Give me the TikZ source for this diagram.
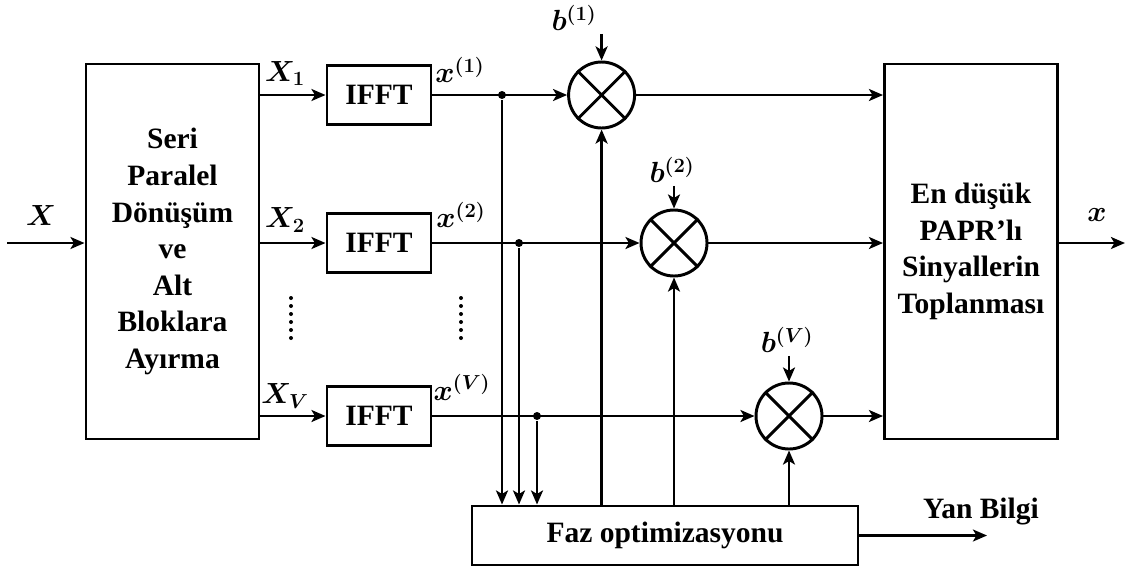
\documentclass[tikz,border=0pt]{standalone}
\usepackage{fontspec}
\setmainfont{Liberation Serif}
\usepackage{amsmath,bm}
\usetikzlibrary{arrows.meta}
\tikzstyle{blockdiagram}=[
    >={Stealth[length=10pt,width=8.5pt,inset=2.5pt]},
    line width=2.1pt,
    every node/.style={font=\fontsize{21}{26}\selectfont\bfseries},
    blk/.style={draw, rectangle, align=center, inner sep=0pt},
    mul/.style={draw, circle, inner sep=0pt, minimum size=1.65cm},
    junc/.style={circle, fill, inner sep=0pt, minimum size=0.2cm},
]

\begin{document}
\begin{tikzpicture}[blockdiagram]
        \useasboundingbox (0,0) rectangle (28.3,-14.225);
        \node (sp) at (4.3125,-6.2875) [blk, minimum width=4.325cm, minimum height=9.375cm] {Seri\\Paralel\\Dönüşüm\\ve\\Alt\\Bloklara\\Ayırma};
        \node (tp) at (24.275,-6.2875) [blk, minimum width=4.325cm, minimum height=9.375cm] {En düşük\\PAPR’lı\\Sinyallerin\\Toplanması};
        \node (ifft1) at (9.475,-2.375) [blk, minimum width=2.6cm, minimum height=1.475cm] {IFFT};
        \node (ifft2) at (9.475,-6.075) [blk, minimum width=2.6cm, minimum height=1.475cm] {IFFT};
        \node (ifftV) at (9.475,-10.4) [blk, minimum width=2.6cm, minimum height=1.475cm] {IFFT};
        \node (faz) at (16.625,-13.3875) [blk, minimum width=9.65cm, minimum height=1.475cm] {Faz optimizasyonu};
        \node (m1) at (15.04,-2.375) [mul] {};
        \node (m2) at (16.85,-6.075) [mul] {};
        \node (mV) at (19.725,-10.4) [mul] {};
        \node (d1) at (12.55,-2.375) [junc] {};
        \node (d2) at (12.975,-6.075) [junc] {};
        \node (dV) at (13.425,-10.4) [junc] {};
        \coordinate (in) at (0.175,-6.075);
        \coordinate (out) at (28.125,-6.075);
        \coordinate (yan) at (24.675,-13.3875);
        \node (lX) at (1.025,-5.375) {$\bm{X}$};
        \node (lX1) at (7.125,-1.84) {$\bm{X_1}$};
        \node (lX2) at (7.125,-5.5) {$\bm{X_2}$};
        \node (lXV) at (7.125,-9.9) {$\bm{X_V}$};
        \node (lx1) at (11.5,-1.75) {$\bm{x^{(1)}}$};
        \node (lx2) at (11.525,-5.375) {$\bm{x^{(2)}}$};
        \node (lxV) at (11.55,-9.69) {$\bm{x^{(V)}}$};
        \node (lb1) at (14.35,-0.45) [inner sep=1pt] {$\bm{b^{(1)}}$};
        \node (lb2) at (16.8,-4.25) [inner sep=1pt] {$\bm{b^{(2)}}$};
        \node (lbV) at (19.675,-8.5) [inner sep=1pt] {$\bm{b^{(V)}}$};
        \node (lx) at (27.425,-5.375) {$\bm{x}$};
        \node (lyan) at (24.525,-12.8) {Yan Bilgi};
        \foreach \m in {m1,m2,mV}
            \draw (\m.45) -- (\m.225) (\m.135) -- (\m.315);
        \draw[->] (in) -- (in -| sp.west);
        \foreach \i in {ifft1,ifft2,ifftV}
            \draw[->] (sp.east |- \i) -- (\i.west);
        \draw[->] (ifft1.east) -- (m1.west);
        \draw[->] (ifft2.east) -- (m2.west);
        \draw[->] (ifftV.east) -- (mV.west);
        \foreach \d in {d1,d2,dV}
            \draw[->] (\d) -- (\d |- faz.north);
        \foreach \m in {m1,m2,mV} {
            \draw[->] (faz.north -| \m) -- (\m.south);
            \draw[->] (\m.east) -- (\m.east -| tp.west);
        }
        \draw[->] (lb1.south -| m1) -- (m1.north);
        \draw[->] (lb2.south -| m2) -- (m2.north);
        \draw[->] (lbV.south -| mV) -- (mV.north);
        \draw[->] (tp.east |- out) -- (out);
        \draw[->] (faz.east) -- (yan);
        \foreach \i in {0,...,5} {
            \fill (7.275,-7.45-0.2*\i) circle (0.05);
            \fill (11.525,-7.45-0.2*\i) circle (0.05);
        }
    \end{tikzpicture}
\end{document}
